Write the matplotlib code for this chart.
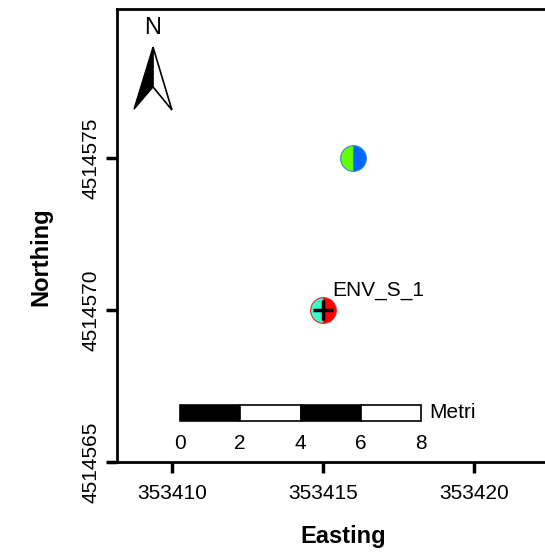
import matplotlib
matplotlib.use("Agg")
import matplotlib.pyplot as plt
from matplotlib.patches import Polygon, Rectangle

plt.rcParams['font.family'] = ['Liberation Sans', 'DejaVu Sans']

# ---- data ----
easting = [353416, 353415]
northing = [4514575, 4514570]
left_colors = ['#66ff00', '#33ffcc']
right_colors = ['#0066ff', '#ff0000']
edge_colors = ['#3388dd', '#ee2222']
labels = ['', 'ENV_S_1']
has_cross = [False, True]

x_ticks = [353410, 353415, 353420]
y_ticks = [4514565, 4514570, 4514575]
scale_breaks = [0, 2, 4, 6, 8]
scale_unit = 'Metri'

# ---- figure ----
fig = plt.figure(figsize=(5.45, 5.56), dpi=100)
ax = fig.add_axes([117/545, 94/556, 443/545, 453/556])
ax.set_xlim(353408.18, 353422.85)
ax.set_ylim(4514565.0, 4514579.9)

for s in ax.spines.values():
    s.set_linewidth(2)

ax.set_xticks(x_ticks)
ax.set_yticks(y_ticks)
ax.set_xticklabels([str(v) for v in x_ticks], fontsize=15)
ax.set_yticklabels([str(v) for v in y_ticks], fontsize=15, rotation=90, va='center')
ax.tick_params(direction='out', length=8, width=2.5)
ax.tick_params(axis='x', pad=8)
ax.tick_params(axis='y', pad=4)

ax.set_xlabel('Easting', fontsize=17, fontweight='bold')
ax.set_ylabel('Northing', fontsize=17, fontweight='bold')
ax.xaxis.set_label_coords((343.5 - 117) / 443, -0.138)
ax.yaxis.set_label_coords((52 - 117) / 443, (462 - 257) / 453)

# points
for x, y, lc, rc, ec, lab, cr in zip(easting, northing, left_colors, right_colors,
                                     edge_colors, labels, has_cross):
    ax.plot([x], [y], marker='o', linestyle='none', markersize=18.5,
            fillstyle='left', markerfacecolor=lc, markerfacecoloralt=rc,
            markeredgecolor=ec, markeredgewidth=0.8, zorder=3)
    if cr:
        ax.plot([x], [y], marker='+', linestyle='none', markersize=14.5,
                markeredgewidth=2.5, color='black', zorder=4)
    if lab:
        ax.text(x + 0.3, y + 0.33, lab, fontsize=15, ha='left', va='bottom')

# scale bar (map units are metres)
sx0 = 353410.26
sy0 = 4514566.35
sh = 0.53
for i in range(len(scale_breaks) - 1):
    w = scale_breaks[i + 1] - scale_breaks[i]
    ax.add_patch(Rectangle((sx0 + scale_breaks[i], sy0), w, sh,
                           facecolor='black' if i % 2 == 0 else 'white',
                           edgecolor='black', linewidth=1.2, zorder=5))
for b in scale_breaks:
    ax.text(sx0 + b, sy0 - 0.42, str(b), fontsize=15, ha='center', va='top')
ax.text(sx0 + scale_breaks[-1] + 0.25, sy0 + sh / 2, scale_unit, fontsize=15,
        ha='left', va='center')

# north arrow (axes fraction)
tip = (0.0813, 0.916)
notch = (0.0813, 0.828)
bl = (0.0384, 0.779)
br = (0.124, 0.777)
ax.add_patch(Polygon([tip, bl, notch], closed=True, facecolor='black',
                     edgecolor='black', linewidth=1, transform=ax.transAxes))
ax.add_patch(Polygon([tip, notch, br], closed=True, facecolor='white',
                     edgecolor='black', linewidth=1.2, transform=ax.transAxes))
ax.text(0.0813, 0.933, 'N', fontsize=17, ha='center', va='bottom',
        transform=ax.transAxes)

fig.savefig('out.png', dpi=100)
